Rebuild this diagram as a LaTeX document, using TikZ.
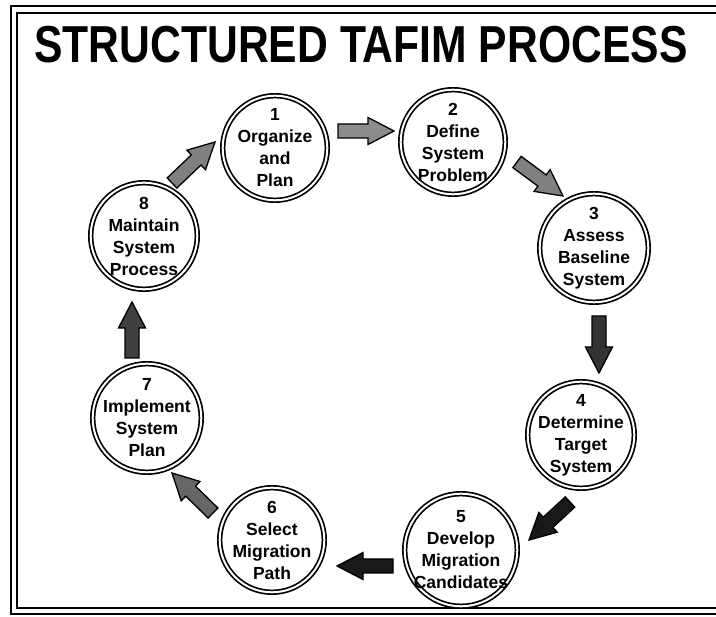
\documentclass[tikz,border=0pt]{standalone}
\usepackage{fontspec}
\setmainfont{Liberation Sans}
\newfontfamily\titlefont[FakeStretch=0.82]{Liberation Sans Bold}
\usetikzlibrary{calc}

\tikzset{
  stage/.style={circle, draw=black, line width=1.7pt, double=white,
    double distance=2pt, minimum size=#1, inner sep=0pt},
  stagetext/.style={font=\bfseries\fontsize{17.5}{22}\selectfont, align=center,
    inner sep=0pt},
  framing/.style={line width=2pt, line cap=rect},
  blockline/.style={draw=black, line width=1.3pt, line join=miter},
}

\newcommand\blockarr[3][black!55]{%
  \path[blockline, fill=#1] let \p1=($(#3)!26pt!(#2)$) in
    ($(#2)!7pt!90:(#3)$) -- ($(\p1)!7pt!-90:(#2)$) -- ($(\p1)!13.5pt!-90:(#2)$)
    -- (#3) -- ($(\p1)!13.5pt!90:(#2)$) -- ($(\p1)!7pt!90:(#2)$)
    -- ($(#2)!7pt!-90:(#3)$) -- cycle;}

\begin{document}
\begin{tikzpicture}[x=1pt, y=-1pt]
\useasboundingbox (0,0) rectangle (716,617);
\fill[white] (0,0) rectangle (716,617);

% frame (double line, open on the right)
\draw[framing] (716,6.5) -- (10.5,6.5) -- (10.5,614) -- (716,614);
\draw[framing] (716,13) -- (17,13) -- (17,608.5) -- (716,608.5);

% title
\node[anchor=base, inner sep=0pt, font=\titlefont\fontsize{52}{52}\selectfont]
  (title) at (361,63) {STRUCTURED TAFIM PROCESS};

% stages
\node[stage=104.6pt, label={[stagetext]center:{1\\Organize\\and\\Plan}}] (c1) at (275,148) {};
\node[stage=104.6pt, label={[stagetext]center:{2\\Define\\System\\Problem}}] (c2) at (453,142) {};
\node[stage=108.6pt, label={[stagetext]center:{3\\Assess\\Baseline\\System}}] (c3) at (594,248) {};
\node[stage=106.6pt, label={[stagetext]center:{4\\Determine\\Target\\System}}] (c4) at (581,435) {};
\node[stage=112.6pt, label={[stagetext]center:{5\\Develop\\Migration\\Candidates}}] (c5) at (461,550) {};
\node[stage=104.6pt, label={[stagetext]center:{6\\Select\\Migration\\Path}}] (c6) at (272,540) {};
\node[stage=108.6pt, label={[stagetext]center:{7\\Implement\\System\\Plan}}] (c7) at (147,418) {};
\node[stage=106.6pt, label={[stagetext]center:{8\\Maintain\\System\\Process}}] (c8) at (144,236) {};

% arrow end points
\coordinate (t12) at (338,131); \coordinate (h12) at (394,131);
\coordinate (t23) at (517,162); \coordinate (h23) at (563,196);
\coordinate (t34) at (599,316); \coordinate (h34) at (599,373);
\coordinate (t45) at (570,502); \coordinate (h45) at (529,540);
\coordinate (t56) at (393,566); \coordinate (h56) at (337,566);
\coordinate (t67) at (213,513); \coordinate (h67) at (172,473);
\coordinate (t78) at (132,358); \coordinate (h78) at (132,302);
\coordinate (t81) at (172,183); \coordinate (h81) at (215,142);

\blockarr[black!45]{t12}{h12}
\blockarr[black!50]{t23}{h23}
\blockarr[black!80]{t34}{h34}
\blockarr[black!90]{t45}{h45}
\blockarr[black!90]{t56}{h56}
\blockarr[black!60]{t67}{h67}
\blockarr[black!75]{t78}{h78}
\blockarr[black!50]{t81}{h81}
\end{tikzpicture}
\end{document}
